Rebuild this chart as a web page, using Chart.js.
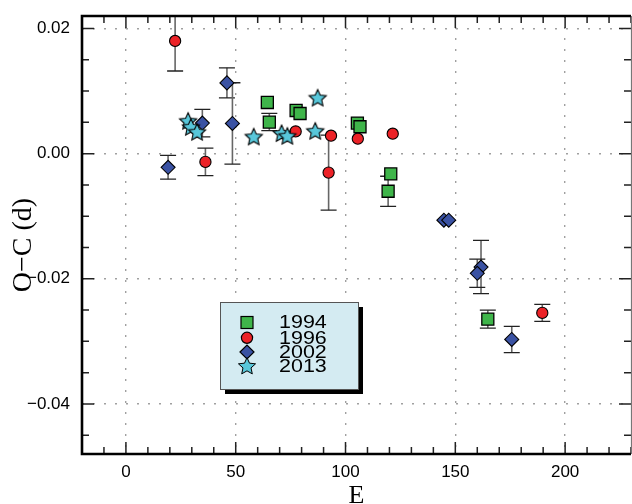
<!DOCTYPE html>
<html>
<head>
<meta charset="utf-8">
<script src="https://cdn.jsdelivr.net/npm/chart.js@4/dist/chart.umd.min.js"></script>
<style>
  html, body { margin: 0; padding: 0; background: #fff; }
  canvas { display: block; }
</style>
</head>
<body>
<canvas id="ocChart" width="632" height="504"></canvas>
<script>
// epoch E, O-C in days, error bar (null = none)
var e1994 = [64.4, 65.3, 77.5, 79.3, 105.4, 106.6, 120.6, 119.4, 164.8];
var oc1994 = [0.00818, 0.00505, 0.00690, 0.00642, 0.00489, 0.00430, -0.00324, -0.00601, -0.02645];
var err1994 = [null, 0.00138, null, null, null, null, null, 0.0024, 0.00143];

var e1996 = [22.4, 36.2, 77.3, 93.4, 92.3, 105.6, 121.5, 189.6];
var oc1996 = [0.01801, -0.00132, 0.00355, 0.00287, -0.00303, 0.00239, 0.00319, -0.02545];
var err1996 = [0.0048, 0.0022, null, null, 0.0060, null, null, 0.00135];

var e2002 = [19.2, 34.8, 46.0, 48.5, 144.8, 147.0, 161.7, 160.0, 175.7];
var oc2002 = [-0.00218, 0.00489, 0.01131, 0.00483, -0.01063, -0.01063, -0.01812, -0.01912, -0.02969];
var err2002 = [0.0019, 0.0022, 0.0024, 0.0065, null, null, 0.00425, 0.00226, 0.0021];

var e2013 = [28.3, 29.6, 32.4, 58.2, 70.9, 73.5, 87.3, 86.2];
var oc2013 = [0.0051, 0.00414, 0.00335, 0.0026, 0.00314, 0.00271, 0.00881, 0.00351];

var seriesNames = ['1994', '1996', '2002', '2013'];

var xTicks = [0, 50, 100, 150, 200];
var xTickLabels = ['0', '50', '100', '150', '200'];
var yTicks = [0.02, 0, -0.02, -0.04];
var yTickLabels = ['0.02', '0.00', '\u22120.02', '\u22120.04'];

function toPoints(xs, ys) {
    return xs.map(function (x, i) { return { x: x, y: ys[i] }; });
}

function starPath(g, cx, cy, r) {
    g.beginPath();
    for (var i = 0; i < 10; i++) {
        var rr = i % 2 ? r * 0.47 : r;
        var a = -Math.PI / 2 + i * Math.PI / 5;
        g.lineTo(cx + rr * Math.cos(a), cy + rr * Math.sin(a));
    }
    g.closePath();
}

function starImage(r, fill) {
    var c = document.createElement('canvas');
    var s = Math.ceil(r * 2 + 4);
    c.width = s; c.height = s;
    var g = c.getContext('2d');
    starPath(g, s / 2, s / 2, r);
    g.fillStyle = fill; g.fill();
    g.lineWidth = 1.1; g.strokeStyle = '#000'; g.stroke();
    return c;
}

function noPad(s) {
    s.paddingLeft = 0; s.paddingRight = 0; s.paddingTop = 0; s.paddingBottom = 0;
}

var green = '#3fb54a', red = '#ec2227', blue = '#3a52a3', cyan = '#58c7da';
var star = starImage(9, cyan);

var errors = [err1994, err1996, err2002, null];

var decorations = {
    id: 'decorations',
    beforeDatasetsDraw: function (chart) {
        var c = chart.ctx, a = chart.chartArea;
        var xs = chart.scales.x, ys = chart.scales.y;
        c.save();
        c.beginPath(); c.rect(a.left, a.top, a.right - a.left, a.bottom - a.top); c.clip();
        chart.data.datasets.forEach(function (ds, k) {
            var errs = errors[k];
            if (!errs) return;
            ds.data.forEach(function (p, i) {
                if (errs[i] == null) return;
                var px = xs.getPixelForValue(p.x);
                var y1 = ys.getPixelForValue(p.y + errs[i]);
                var y2 = ys.getPixelForValue(p.y - errs[i]);
                c.strokeStyle = '#666'; c.lineWidth = 1.6;
                c.beginPath(); c.moveTo(px, y1); c.lineTo(px, y2); c.stroke();
                c.strokeStyle = '#222'; c.lineWidth = 1.3;
                c.beginPath();
                c.moveTo(px - 8, y1); c.lineTo(px + 8, y1);
                c.moveTo(px - 8, y2); c.lineTo(px + 8, y2);
                c.stroke();
            });
        });
        c.restore();
    },
    afterDraw: function (chart) {
        var c = chart.ctx, a = chart.chartArea;
        var xs = chart.scales.x, ys = chart.scales.y;
        c.save();
        // inward ticks on all four sides
        c.strokeStyle = '#222'; c.lineWidth = 1.5;
        c.beginPath();
        for (var i = -2; i <= 23; i++) {
            var px = xs.getPixelForValue(i * 10);
            var len = (i % 5 === 0) ? 12 : 7;
            c.moveTo(px, a.bottom); c.lineTo(px, a.bottom - len);
            c.moveTo(px, a.top); c.lineTo(px, a.top + len);
        }
        for (var j = -9; j <= 4; j++) {
            var py = ys.getPixelForValue(j * 0.005);
            var l2 = (j % 4 === 0) ? 12 : 7;
            c.moveTo(a.left, py); c.lineTo(a.left + l2, py);
            c.moveTo(a.right, py); c.lineTo(a.right - l2, py);
        }
        c.stroke();
        // frame (right edge is cut by the picture border in the original)
        c.strokeStyle = '#000'; c.lineWidth = 2.6;
        c.beginPath();
        c.moveTo(a.right, a.top); c.lineTo(a.left, a.top); c.lineTo(a.left, a.bottom); c.lineTo(a.right, a.bottom);
        c.stroke();
        c.strokeStyle = '#777'; c.lineWidth = 1.2;
        c.beginPath(); c.moveTo(a.right + 0.5, a.top); c.lineTo(a.right + 0.5, a.bottom); c.stroke();

        // axis titles
        c.fillStyle = '#000';
        c.font = '26px "Liberation Serif"';
        c.textAlign = 'center'; c.textBaseline = 'alphabetic';
        c.fillText('E', (a.left + a.right) / 2, 503);
        c.save();
        c.translate(31, 245);
        c.rotate(-Math.PI / 2);
        c.font = '28px "Liberation Serif"';
        c.fillText('O\u2212C (d)', 0, 0);
        c.restore();

        // legend box with drop shadow
        var bx = 220, by = 302, bw = 138, bh = 87;
        c.fillStyle = '#000';
        c.fillRect(bx + 5, by + 5, bw, bh);
        c.fillStyle = '#d4ebf2';
        c.fillRect(bx, by, bw, bh);
        c.strokeStyle = '#555'; c.lineWidth = 1;
        c.strokeRect(bx + 0.5, by + 0.5, bw, bh);

        var rowY = [322.5, 337.8, 352, 366.6];
        var sx = 247;
        c.lineWidth = 1.2; c.strokeStyle = '#000';
        // square
        c.fillStyle = green;
        c.fillRect(sx - 6, rowY[0] - 6, 12, 12); c.strokeRect(sx - 6, rowY[0] - 6, 12, 12);
        // circle
        c.fillStyle = red;
        c.beginPath(); c.arc(sx, rowY[1], 5.6, 0, Math.PI * 2); c.fill(); c.stroke();
        // diamond
        c.fillStyle = blue;
        c.beginPath();
        c.moveTo(sx - 7, rowY[2]); c.lineTo(sx, rowY[2] - 7); c.lineTo(sx + 7, rowY[2]); c.lineTo(sx, rowY[2] + 7);
        c.closePath(); c.fill(); c.stroke();
        // star
        c.fillStyle = cyan; c.lineWidth = 1;
        starPath(c, sx, rowY[3], 9); c.fill(); c.stroke();

        c.fillStyle = '#000';
        c.font = '19px "Liberation Sans"';
        c.textAlign = 'left'; c.textBaseline = 'middle';
        seriesNames.forEach(function (n, k) {
            c.save();
            c.translate(279, rowY[k] + 0.5);
            c.scale(1.13, 1);
            c.fillText(n, 0, 0);
            c.restore();
        });
        c.restore();
    }
};

var ctx = document.getElementById('ocChart').getContext('2d');
var ocChart = new Chart(ctx, {
    type: 'scatter',
    data: {
        datasets: [
            { label: seriesNames[0], data: toPoints(e1994, oc1994), pointStyle: 'rect', pointRadius: 8.5,
              backgroundColor: green, borderColor: '#000', borderWidth: 1.3, order: 4 },
            { label: seriesNames[1], data: toPoints(e1996, oc1996), pointStyle: 'circle', pointRadius: 5.6,
              backgroundColor: red, borderColor: '#000', borderWidth: 1.1, order: 3 },
            { label: seriesNames[2], data: toPoints(e2002, oc2002), pointStyle: 'rectRot', pointRadius: 7,
              backgroundColor: blue, borderColor: '#000', borderWidth: 1.1, order: 2 },
            { label: seriesNames[3], data: toPoints(e2013, oc2013), pointStyle: star, pointRadius: 9,
              backgroundColor: cyan, borderColor: '#000', borderWidth: 1, order: 1 }
        ]
    },
    options: {
        responsive: false,
        animation: false,
        layout: { autoPadding: false, padding: { top: 16, right: 1, left: 0, bottom: 0 } },
        plugins: { legend: { display: false }, tooltip: { enabled: false } },
        scales: {
            x: {
                type: 'linear', min: -20, max: 230,
                afterFit: function (s) { s.height = 50; noPad(s); },
                afterBuildTicks: function (s) { s.ticks = xTicks.map(function (v) { return { value: v }; }); },
                ticks: {
                    padding: 8, color: '#000', maxRotation: 0, autoSkip: false,
                    font: { family: 'Liberation Sans', size: 17 },
                    callback: function (v, i) { return xTickLabels[i]; }
                },
                grid: { color: '#a0a0a0', lineWidth: 1.4, drawTicks: false },
                border: { display: false, dash: [2, 9] }
            },
            y: {
                type: 'linear', min: -0.048, max: 0.022,
                afterFit: function (s) { s.width = 82; noPad(s); },
                afterBuildTicks: function (s) { s.ticks = yTicks.map(function (v) { return { value: v }; }); },
                ticks: {
                    padding: 12, color: '#000', autoSkip: false,
                    font: { family: 'Liberation Sans', size: 17 },
                    callback: function (v, i) { return yTickLabels[i]; }
                },
                grid: { color: '#a0a0a0', lineWidth: 1.4, drawTicks: false },
                border: { display: false, dash: [2, 9] }
            }
        }
    },
    plugins: [decorations]
});
</script>
</body>
</html>
